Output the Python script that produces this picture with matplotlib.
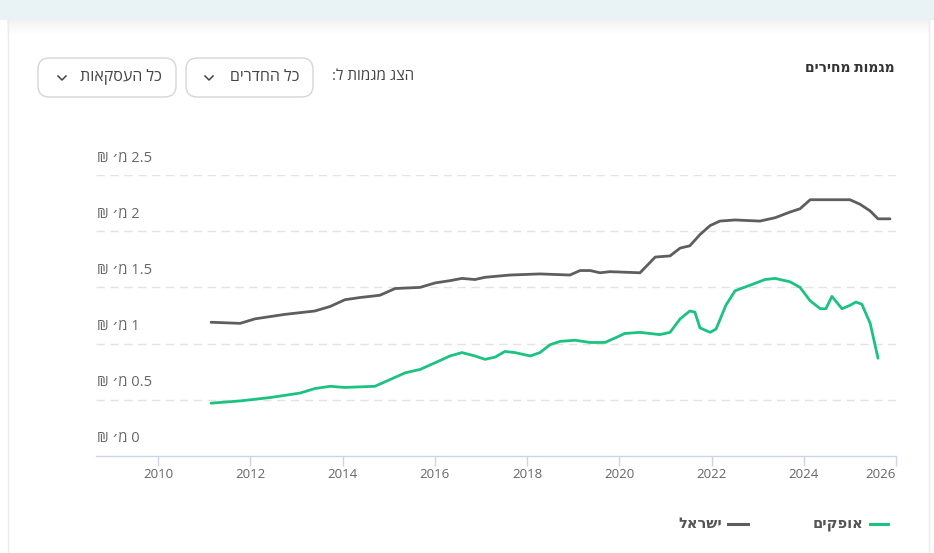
import matplotlib
matplotlib.use("Agg")
import matplotlib.pyplot as plt
import matplotlib.transforms as mtransforms
from matplotlib.patches import FancyBboxPatch, Rectangle
from matplotlib.lines import Line2D

plt.rcParams['font.family'] = ['Open Sans', 'DejaVu Sans']

# ---------------- data ----------------
israel_years = [2011.15, 2011.78, 2012.10, 2012.75, 2013.40, 2013.73, 2014.05, 2014.38,
                2014.81, 2015.14, 2015.68, 2016.01, 2016.33, 2016.59, 2016.87, 2017.09,
                2017.63, 2018.28, 2018.93, 2019.15, 2019.37, 2019.58, 2019.80, 2020.45,
                2020.78, 2021.10, 2021.32, 2021.53, 2021.75, 2021.97, 2022.18, 2022.51,
                2023.05, 2023.38, 2023.70, 2023.92, 2024.14, 2024.79, 2025.00, 2025.22,
                2025.44, 2025.61, 2025.87]
israel_values = [1.19, 1.18, 1.22, 1.26, 1.29, 1.33, 1.39, 1.41,
                 1.43, 1.49, 1.50, 1.54, 1.56, 1.58, 1.57, 1.59,
                 1.61, 1.62, 1.61, 1.65, 1.65, 1.63, 1.64, 1.63,
                 1.77, 1.78, 1.85, 1.87, 1.97, 2.05, 2.09, 2.10,
                 2.09, 2.12, 2.17, 2.20, 2.28, 2.28, 2.28, 2.24,
                 2.18, 2.11, 2.11]

ofakim_years = [2011.15, 2011.78, 2012.43, 2013.08, 2013.40, 2013.73, 2014.05, 2014.70,
                2015.03, 2015.36, 2015.68, 2016.01, 2016.33, 2016.59, 2016.87, 2017.09,
                2017.31, 2017.52, 2017.74, 2018.07, 2018.28, 2018.50, 2018.72, 2019.04,
                2019.37, 2019.69, 2019.91, 2020.12, 2020.45, 2020.88, 2021.10, 2021.32,
                2021.53, 2021.64, 2021.75, 2021.97, 2022.10, 2022.31, 2022.51, 2022.84,
                2023.16, 2023.38, 2023.70, 2023.92, 2024.14, 2024.36, 2024.48, 2024.61,
                2024.83, 2025.00, 2025.13, 2025.26, 2025.44, 2025.61]
ofakim_values = [0.47, 0.49, 0.52, 0.56, 0.60, 0.62, 0.61, 0.62,
                 0.68, 0.74, 0.77, 0.83, 0.89, 0.92, 0.89, 0.86,
                 0.88, 0.93, 0.92, 0.89, 0.92, 0.99, 1.02, 1.03,
                 1.01, 1.01, 1.05, 1.09, 1.10, 1.08, 1.10, 1.22,
                 1.29, 1.28, 1.14, 1.10, 1.13, 1.34, 1.47, 1.52,
                 1.57, 1.58, 1.55, 1.50, 1.38, 1.31, 1.31, 1.42,
                 1.31, 1.34, 1.37, 1.35, 1.18, 0.87]

x_ticks = [2010, 2012, 2014, 2016, 2018, 2020, 2022, 2024, 2026]
y_ticks = [0, 0.5, 1, 1.5, 2, 2.5]
y_labels = ["₪ ׳מ 0", "₪ ׳מ 0.5", "₪ ׳מ 1", "₪ ׳מ 1.5", "₪ ׳מ 2", "₪ ׳מ 2.5"]

GREEN = "#1cc282"
GRAY = "#5e5e5e"

W, H = 934, 553
fig = plt.figure(figsize=(W / 100, H / 100), dpi=100)
fig.patch.set_facecolor("white")


def fx(x):
    return x / W


def fy(y):
    return 1 - y / H


# top band + shadow
fig.add_artist(Rectangle((0, fy(20)), 1, 20 / H, transform=fig.transFigure,
                         facecolor="#e9f2f4", edgecolor="none", zorder=0))
for i in range(14):
    a = 0.05 * (1 - i / 14)
    fig.add_artist(Rectangle((fx(7), fy(21 + i)), fx(922), 1 / H, transform=fig.transFigure,
                             facecolor="black", alpha=a, edgecolor="none", zorder=0))
# card borders
fig.add_artist(Line2D([fx(7.5), fx(7.5)], [0, fy(20)], transform=fig.transFigure,
                      color="#ececec", lw=1))
fig.add_artist(Line2D([fx(928.5), fx(928.5)], [0, fy(20)], transform=fig.transFigure,
                      color="#ececec", lw=1))

# header texts (visual order for RTL)
fig.text(fx(895), fy(68), "םיריחמ תומגמ", ha="right", va="center",
         fontsize=10, fontweight="bold", color="#333333")
fig.text(fx(414), fy(77), ":ל תומגמ גצה", ha="right", va="center",
         fontsize=11, color="#444444")


def dropdown(x0, x1, text, chev_x, text_right):
    fig.add_artist(FancyBboxPatch((fx(x0), fy(97)), fx(x1 - x0), (97 - 58) / H,
                                  boxstyle="round,pad=0,rounding_size=0.012",
                                  transform=fig.transFigure, facecolor="white",
                                  edgecolor="#d6d6d6", lw=1, mutation_aspect=W / H))
    fig.text(fx(text_right), fy(77), text, ha="right", va="center",
             fontsize=11.5, color="#444444")
    fig.add_artist(Line2D([fx(chev_x - 4), fx(chev_x), fx(chev_x + 4)],
                          [fy(76), fy(80), fy(76)], transform=fig.transFigure,
                          color="#444444", lw=1.1))


dropdown(186, 313, "םירדחה לכ", 209, 299)
dropdown(38, 176, "תואקסעה לכ", 62, 162)

# ---------------- chart ----------------
ax = fig.add_axes([fx(96), fy(456), fx(800), (456 - 175) / H])
ax.set_facecolor("white")
ax.set_xlim(2008.655, 2026.0)
ax.set_ylim(0, 2.5)

ax.plot(israel_years, israel_values, color=GRAY, lw=2.0, solid_joinstyle="round",
        solid_capstyle="round", zorder=3)
ax.plot(ofakim_years, ofakim_values, color=GREEN, lw=2.0, solid_joinstyle="round",
        solid_capstyle="round", zorder=3)

for s in ["top", "right", "left"]:
    ax.spines[s].set_visible(False)
ax.spines["bottom"].set_color("#ccd6eb")
ax.spines["bottom"].set_linewidth(1)

ax.set_yticks(y_ticks)
ax.set_yticklabels([])
ax.tick_params(axis="y", length=0)
for v in y_ticks[1:]:
    ax.axhline(v, color="#e3e3e3", lw=1, dashes=(6, 4), zorder=1)

trans = mtransforms.blended_transform_factory(ax.transAxes, ax.transData)
trans_off = mtransforms.offset_copy(trans, fig=fig, x=1, y=17, units="dots")
for v, lab in zip(y_ticks, y_labels):
    ax.text(0, v, lab, transform=trans_off, ha="left", va="center",
            fontsize=10.5, color="#666666")

ax.set_xticks(x_ticks)
ax.set_xticklabels([str(t) for t in x_ticks])
ax.tick_params(axis="x", length=7, width=1, color="#ccd6eb", labelcolor="#666666",
               labelsize=9.5, pad=2)
labels = ax.get_xticklabels()
labels[-1].set_horizontalalignment("right")

# legend
fig.add_artist(Line2D([fx(870), fx(888)], [fy(524), fy(524)], transform=fig.transFigure,
                      color=GREEN, lw=2.2))
fig.text(fx(863), fy(524), "םיקפוא", ha="right", va="center", fontsize=10.5,
         fontweight="bold", color="#555555")
fig.add_artist(Line2D([fx(728), fx(748)], [fy(524), fy(524)], transform=fig.transFigure,
                      color=GRAY, lw=2.2))
fig.text(fx(722), fy(524), "לארשי", ha="right", va="center", fontsize=10.5,
         fontweight="bold", color="#555555")

fig.savefig("out.png", dpi=100, facecolor="white")
